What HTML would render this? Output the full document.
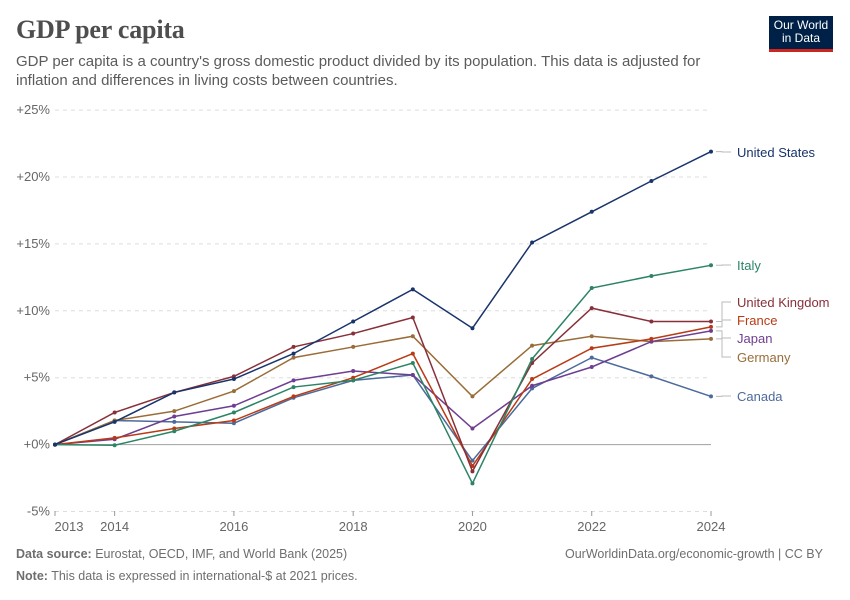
<!DOCTYPE html>
<html><head><meta charset="utf-8"><style>
body{margin:0;background:#fff;font-family:"Liberation Sans",sans-serif;}
#wrap{position:relative;width:850px;height:600px;overflow:hidden;}
h1{position:absolute;left:16px;top:15px;margin:0;font-family:"Liberation Serif",serif;font-weight:700;font-size:26px;color:#4e4e4e;letter-spacing:-0.2px}
.sub{position:absolute;left:16px;top:52px;width:700px;font-size:15px;line-height:19px;color:#5b5b5b}
.logo{position:absolute;left:769px;top:16px;width:64px;height:36px;background:#002147;color:#fff;font-size:12px;line-height:13px;text-align:center;padding-top:3px;box-sizing:border-box;border-bottom:3px solid #ce261e}
.foot{position:absolute;font-size:12.5px;color:#6e6e6e}
</style></head><body><div id="wrap">
<h1>GDP per capita</h1>
<div class="sub">GDP per capita is a country's gross domestic product divided by its population. This data is adjusted for inflation and differences in living costs between countries.</div>
<div class="logo">Our World<br>in Data</div>
<svg id="chart" width="850" height="600" style="position:absolute;left:0;top:0"></svg>
<div class="foot" style="left:16px;top:547px"><b>Data source:</b> Eurostat, OECD, IMF, and World Bank (2025)</div>
<div class="foot" style="left:565px;top:547px">OurWorldinData.org/economic-growth | CC BY</div>
<div class="foot" style="left:16px;top:569px"><b>Note:</b> This data is expressed in international-$ at 2021 prices.</div>
</div>
<script>
const years=[2013,2014,2015,2016,2017,2018,2019,2020,2021,2022,2023,2024];
const usValues=[0,1.7,3.9,4.9,6.8,9.2,11.6,8.7,15.1,17.4,19.7,21.9];
const italyValues=[0,-0.05,1.0,2.4,4.3,4.8,6.1,-2.9,6.4,11.7,12.6,13.4];
const ukValues=[0,2.4,3.9,5.1,7.3,8.3,9.5,-2.0,6.1,10.2,9.2,9.2];
const germanyValues=[0,1.8,2.5,4.0,6.5,7.3,8.1,3.6,7.4,8.1,7.7,7.9];
const franceValues=[0,0.5,1.2,1.8,3.6,5.0,6.8,-1.6,4.9,7.2,7.9,8.8];
const japanValues=[0,0.4,2.1,2.9,4.8,5.5,5.2,1.2,4.4,5.8,7.7,8.5];
const canadaValues=[0,1.8,1.7,1.6,3.5,4.8,5.2,-1.2,4.2,6.5,5.1,3.6];
const yTicks=[-5,0,5,10,15,20,25];
const xTicks=[2013,2014,2016,2018,2020,2022,2024];
const series=[
 {name:"United States",vals:usValues,color:"#18346b",ly:157},
 {name:"Italy",vals:italyValues,color:"#2c8465",ly:270},
 {name:"United Kingdom",vals:ukValues,color:"#883039",ly:307},
 {name:"France",vals:franceValues,color:"#b93a14",ly:325},
 {name:"Japan",vals:japanValues,color:"#6d3e91",ly:343},
 {name:"Germany",vals:germanyValues,color:"#996d39",ly:362},
 {name:"Canada",vals:canadaValues,color:"#4c6a9c",ly:401}];
const X=y=>55+(y-2013)*(711-55)/11;
const Y=v=>444.6-v*13.38;
const svg=document.getElementById('chart');
const NS="http://www.w3.org/2000/svg";
function mk(t,a){const e=document.createElementNS(NS,t);for(const k in a)e.setAttribute(k,a[k]);svg.appendChild(e);return e;}
yTicks.forEach(t=>{
 const l=mk('line',{x1:55,x2:711,y1:Y(t),y2:Y(t),stroke:t===0?'#a0a0a0':'#dddddd','stroke-dasharray':t===0?'':'4,4'});
 
 
 const tx=mk('text',{x:50,y:Y(t)+4,'text-anchor':'end','font-size':13,fill:'#666'});
 tx.textContent=(t>0?'+':t<0?'-':'+')+Math.abs(t)+'%';
 
 
});
xTicks.forEach(t=>{
 const tk=mk('line',{x1:X(t),x2:X(t),y1:511,y2:516,stroke:'#999'});
 
 
 const tx=mk('text',{x:X(t)+(t===2013?14:0),y:531,'text-anchor':'middle','font-size':13,fill:'#666'});
 tx.textContent=t;
 
 
});
series.slice().reverse().forEach(s=>{
 const p=mk('polyline',{points:s.vals.map((v,i)=>X(years[i])+','+Y(v)).join(' '),fill:'none',stroke:s.color,'stroke-width':1.5});
 
 
 s.vals.forEach((v,i)=>{
  const c=mk('circle',{cx:X(years[i]),cy:Y(v),r:2,fill:s.color});
  
  
 });
 const ey=Y(s.vals[s.vals.length-1]);
 const con=mk('polyline',{points:`716,${ey} 722,${ey} 722,${s.ly-5} 731,${s.ly-5}`,fill:'none',stroke:'#bbb','stroke-width':1});
 
 
 const t=mk('text',{x:737,y:s.ly,'font-size':13,fill:s.color});
 t.textContent=s.name;
 
 
});
</script></body></html>
